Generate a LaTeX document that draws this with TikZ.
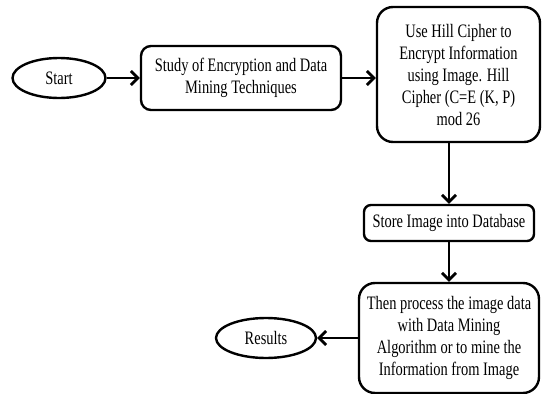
\documentclass[tikz,border=0pt]{standalone}
\usepackage{fontspec}
\setmainfont{Liberation Serif}[FakeStretch=0.76]
\usetikzlibrary{arrows.meta}
\usetikzlibrary{shapes.geometric}

\tikzset{
  stepbox/.style={draw,line width=2.4pt,rounded corners=#1,align=center,inner sep=2pt},
  stepbox/.default=10pt,
  endpoint/.style={draw,ellipse,line width=2.4pt,inner sep=0pt},
  arr/.style={line width=2.8pt,-{Straight Barb[length=7pt,width=14pt]}}
}

\begin{document}
\begin{tikzpicture}[x=1pt,y=-1pt,font=\fontsize{19}{22}\selectfont]
  \useasboundingbox (0,0) rectangle (542,394);
  \node[endpoint,minimum width=93pt,minimum height=40pt] (start) at (59,78) {Start};
  \node[stepbox,minimum width=200pt,minimum height=64pt] (study) at (241,78) {Study of Encryption and Data\\Mining Techniques};
  \node[stepbox=16pt,minimum width=163pt,minimum height=135pt] (hill) at (458.5,74.5) {Use Hill Cipher to\\Encrypt Information\\using Image. Hill\\Cipher (C=E (K, P)\\mod 26};
  \node[stepbox=7pt,minimum width=170pt,minimum height=36pt] (store) at (449,223) {Store Image into Database};
  \node[stepbox=16pt,minimum width=180pt,minimum height=110pt] (proc) at (449,338) {Then process the image data\\with Data Mining\\Algorithm or to mine the\\Information from Image};
  \node[endpoint,minimum width=100pt,minimum height=40pt] (res) at (266,338) {Results};
  \draw[arr] (start) -- (study);
  \draw[arr] (study.east) -- (study.east -| hill.west);
  \draw[arr] (hill.south -| store.north) -- (store.north);
  \draw[arr] (store) -- (proc);
  \draw[arr] (proc) -- (res);
\end{tikzpicture}
\end{document}
